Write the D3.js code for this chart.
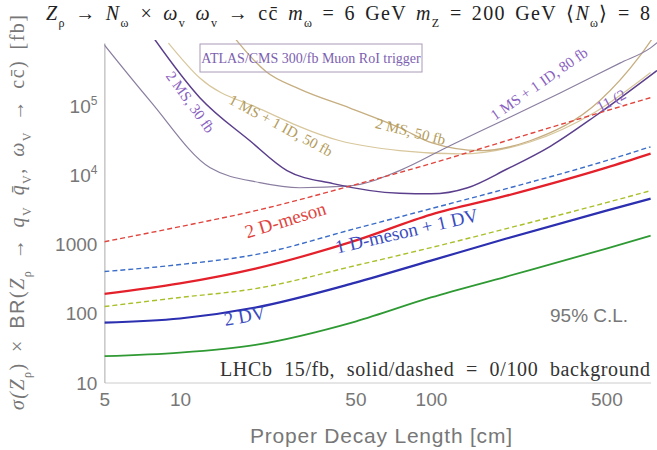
<!DOCTYPE html>
<html><head><meta charset="utf-8">
<script src="https://cdn.jsdelivr.net/npm/d3@7"></script>
<style>body{margin:0;background:#fff}svg{display:block}</style>
</head><body><svg id="c" width="657" height="450"></svg>
<script>
// ---- data ----
const xTicks = [5, 10, 50, 100, 500];
const yTicks = [10, 100, 1000, 1e4, 1e5];
const yTickLabels = ["10", "100", "1000", "10^4", "10^5"];
const xBand = [5, 10, 20, 50, 100, 200, 500, 750];
const redSolid    = [190, 270, 442, 1120, 2660, 4990, 12700, 20200];
const redDashed   = [1080, 1780, 3030, 7200, 14500, 31000, 84000, 130000];
const blueSolid   = [73, 84, 121, 277, 576, 1200, 3030, 4520];
const blueDashed  = [400, 505, 703, 1670, 3240, 6300, 16000, 25400];
const greenSolid  = [24, 27, 35, 76, 169, 339, 859, 1320];
const yellowDashed= [125, 169, 227, 488, 887, 1670, 3960, 5900];
// muon system curves (ATLAS/CMS)
const p1X = [4.8, 7.6, 13.2, 20.8, 30, 47.5, 75, 119, 188, 327, 566, 750, 900];
const p1Y = [9e5, 1.17e5, 1.26e4, 7700, 6500, 6900, 11500, 26300, 57800, 1.52e5, 4.1e5, 6.8e5, 1.2e6];
const p2X = [7.5, 12, 19, 26.7, 40.7, 75, 100, 140, 200, 300, 450, 795];
const p2Y = [1.2e6, 1.3e5, 31000, 11500, 7450, 5400, 5300, 6500, 12000, 26000, 70000, 3.2e5];
const t1X = [15, 17.3, 22, 30, 47.6, 75.5, 101, 157, 248, 470, 680, 800];
const t1Y = [1.5e6, 7.7e5, 3.1e5, 1.73e5, 92000, 47400, 28800, 22300, 31000, 1.17e5, 5.2e5, 1.2e6];
const t2X = [9, 12, 20.8, 43.4, 75, 130, 250, 450, 750];
const t2Y = [8e5, 2.5e5, 90000, 31000, 22300, 20000, 30000, 80000, 3e5];

const svg = d3.select("#c");
const m = {l: 104.4, r: 650.6, t: 43, b: 382.5};
const x = d3.scaleLog().domain([5, 750]).range([m.l, m.r]);
const y = d3.scaleLog().domain([10, 8e5]).range([m.b, m.t]);
const SANS = "Liberation Sans, Arial, sans-serif", SERIF = "Liberation Serif, Times New Roman, serif";

svg.append("defs").append("clipPath").attr("id","clip")
  .append("rect").attr("x", m.l).attr("y", m.t-3).attr("width", m.r-m.l+8).attr("height", m.b-m.t+3);

// axes
const xAxis = d3.axisBottom(x).tickValues(xTicks).tickFormat(d3.format("d")).tickSize(0).tickPadding(10);
const gx = svg.append("g").attr("transform",`translate(0,${m.b})`).call(xAxis);
gx.select(".domain").attr("stroke","#ccc");
gx.selectAll("text").attr("font-family",SANS).attr("font-size",19).attr("fill","#777");

const yAxis = d3.axisLeft(y).tickValues(yTicks).tickFormat("").tickSize(0);
const gy = svg.append("g").attr("transform",`translate(${m.l},0)`).call(yAxis);
gy.select(".domain").attr("stroke","#aaa");
yTicks.forEach((v,i)=>{
  const lab = yTickLabels[i];
  const t = svg.append("text").attr("x", m.l-7).attr("y", y(v)+7).attr("text-anchor","end")
    .attr("font-family",SANS).attr("font-size",19).attr("fill","#777");
  if (lab.includes("^")) {
    const [b,e] = lab.split("^");
    t.append("tspan").text(b);
    t.append("tspan").attr("dy",-8).attr("font-size",12).text(e);
  } else t.text(lab);
});

const plot = svg.append("g").attr("clip-path","url(#clip)");
const line = d3.line().x(d=>x(d[0])).y(d=>y(d[1])).curve(d3.curveMonotoneX);
function draw(xs, ys, color, w, dash){
  plot.append("path").datum(xs.map((v,i)=>[v, ys[i]])).attr("d", line)
    .attr("fill","none").attr("stroke", color).attr("stroke-width", w)
    .attr("stroke-dasharray", dash || null);
}
draw(t2X, t2Y, "#d8c79c", 1.2);
draw(t1X, t1Y, "#c6ae80", 1.3);
draw(p1X, p1Y, "#8b7ea0", 1.2);
draw(p2X, p2Y, "#5b3f8c", 1.5);
draw(xBand, redDashed, "#e0453e", 1.4, "5,3");
draw(xBand, blueDashed, "#3a6cc8", 1.4, "5,3");
draw(xBand, yellowDashed, "#aabf2a", 1.4, "5,3");
draw(xBand, redSolid, "#e4212b", 2.2);
draw(xBand, blueSolid, "#2b2fb0", 2.2);
draw(xBand, greenSolid, "#2f9a33", 1.8);

// ATLAS box (transparent, curves visible through it)
svg.append("rect").attr("x",200).attr("y",44).attr("width",222).attr("height",28)
  .attr("fill","none").attr("stroke","#a99ab8").attr("stroke-width",1);
svg.append("text").attr("x",311).attr("y",63).attr("text-anchor","middle")
  .attr("font-family",SERIF).attr("font-size",14).attr("fill","#7d5fb0")
  .text("ATLAS/CMS 300/fb Muon RoI trigger");

function label(txt, cx, cy, ang, color, size){
  svg.append("text").attr("transform",`translate(${cx},${cy}) rotate(${ang})`)
    .attr("text-anchor","middle").attr("dominant-baseline","middle")
    .attr("font-family",SERIF).attr("font-size",size).attr("fill",color).text(txt);
}
label("2 MS, 30 fb", 189, 103, 54, "#8a62c0", 15);
label("1 MS + 1 ID, 50 fb", 280, 127, 28, "#b49c5c", 15);
label("2 MS, 50 fb", 410, 133, 14, "#b49c5c", 15);
label("1 MS + 1 ID, 80 fb", 540, 85, -35, "#8a62c0", 15);
label("11 (2", 612, 102, -28, "#8a62c0", 15);
label("2 D-meson", 286, 222, -17, "#e0453e", 19);
label("1 D-meson + 1 DV", 407, 233, -13, "#3a4cc0", 19);
label("2 DV", 245, 318, -10, "#3a4cc0", 19);

svg.append("text").attr("x",550).attr("y",322).attr("font-family",SANS)
  .attr("font-size",19).attr("fill","#777").text("95% C.L.");
svg.append("text").attr("x",220).attr("y",376).attr("font-family",SERIF)
  .attr("font-size",20).attr("fill","#333").attr("word-spacing",6)
  .attr("textLength",430).attr("lengthAdjust","spacing")
  .text("LHCb 15/fb, solid/dashed = 0/100 background");

// x label
svg.append("text").attr("x",250).attr("y",443)
  .attr("font-family",SANS).attr("font-size",21).attr("fill","#777")
  .attr("textLength",262).attr("lengthAdjust","spacing")
  .text("Proper Decay Length [cm]");

function ts(sel, t, opt){ const s = sel.append("tspan").text(t); if(opt){ for(const k in opt) s.attr(k,opt[k]); } return s; }
const it = {"font-style":"italic"};
const sub = {"baseline-shift":"sub","font-size":12};

// y label
const yl = svg.append("text").attr("transform","translate(24,410) rotate(-90)")
  .attr("font-family",SERIF).attr("font-size",20).attr("fill","#777").attr("word-spacing",4)
  .attr("textLength",395).attr("lengthAdjust","spacing");
ts(yl,"σ(",it); ts(yl,"Z",it); ts(yl,"ρ",sub);
ts(yl,") × "); ts(yl,"BR",{"font-family":SANS}); ts(yl,"(");
ts(yl,"Z",it); ts(yl,"ρ",sub);
ts(yl," → "); ts(yl,"q",it); ts(yl,"V",sub);
ts(yl," q\u0304",it); ts(yl,"V",sub);
ts(yl,", ω",it); ts(yl,"V",sub);
ts(yl," → cc\u0304) [fb]");

// title
const tt = svg.append("text").attr("x",46).attr("y",20).attr("font-family",SERIF)
  .attr("font-size",20).attr("fill","#222").attr("word-spacing",3)
  .attr("textLength",604).attr("lengthAdjust","spacing");
ts(tt,"Z",it); ts(tt,"ρ",sub); ts(tt," → "); ts(tt,"N",it); ts(tt,"ω",sub);
ts(tt," × ω",it); ts(tt,"v",sub); ts(tt,"  ω",it); ts(tt,"v",sub);
ts(tt," → cc\u0304  "); ts(tt,"m",it); ts(tt,"ω",sub); ts(tt," = 6 GeV  ");
ts(tt,"m",it); ts(tt,"Z",sub); ts(tt," = 200 GeV ⟨"); ts(tt,"N",it); ts(tt,"ω",sub);
ts(tt,"⟩ = 8");
</script></body></html>
